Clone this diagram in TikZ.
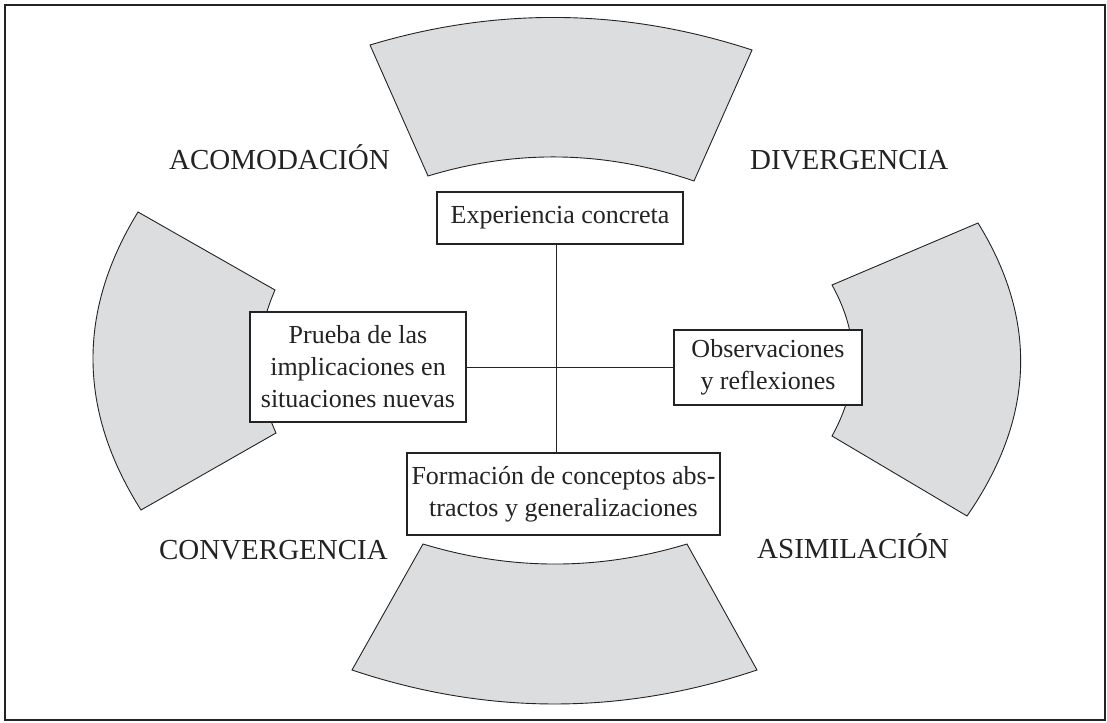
\documentclass[tikz,border=0pt]{standalone}
\usepackage{fontspec}
\setmainfont{Liberation Serif}
\definecolor{sect}{RGB}{220,221,223}
\definecolor{ink}{RGB}{35,35,35}
\tikzset{
 sector/.style={draw=ink, fill=sect, line width=0.9pt, line join=miter},
 stagebox/.style={draw=ink, fill=white, line width=1.1pt, inner sep=0pt, align=center, font=\fontsize{26}{32}\selectfont, text=ink},
 modelabel/.style={font=\fontsize{29}{32}\selectfont, text=ink, inner sep=0pt},
 link/.style={draw=ink, line width=1pt}
}
\begin{document}
\begin{tikzpicture}[x=1pt,y=-1pt]
\useasboundingbox (0,0) rectangle (1107,722);
\draw[draw=ink, line width=2pt] (5,5) rectangle (1105,720);
% sectors
\draw[sector] (370,45) .. controls (497.3,6.7) and (624.7,8.3) .. (752,50) -- (694,181) .. controls (605.3,150.7) and (516.7,149) .. (428,176) -- cycle;
\draw[sector] (352,670) .. controls (487,715.3) and (622,715.3) .. (757,670) -- (687,544) .. controls (599,570.7) and (511,570.7) .. (423,544) -- cycle;
\draw[sector] (138,212) .. controls (77,311.3) and (78,410.7) .. (141,510) -- (276,433) .. controls (254.3,385.3) and (254,337.7) .. (275,290) -- cycle;
\draw[sector] (978,223) .. controls (1038.3,320.7) and (1034.7,418.3) .. (967,516) -- (832,436) .. controls (860,385.7) and (860,335.3) .. (832,285) -- cycle;
% labels
\node[modelabel, anchor=base east] (acom) at (390,170) {ACOMODACIÓN};
\node[modelabel, anchor=base west] (dive) at (750,170) {DIVERGENCIA};
\node[modelabel, anchor=base east] (conv) at (388,559) {CONVERGENCIA};
\node[modelabel, anchor=base west] (asim) at (757,558) {ASIMILACIÓN};
% boxes
\coordinate (c) at (556,367);
\node[stagebox, minimum width=246pt, minimum height=52pt] (exp) at (560,218) {Experiencia concreta};
\node[stagebox, minimum width=216pt, minimum height=110pt] (prueba) at (358,367) {Prueba de las\\implicaciones en\\situaciones nuevas};
\node[stagebox, minimum width=188pt, minimum height=75pt] (obs) at (768,367.5) {Observaciones\\y reflexiones};
\node[stagebox, minimum width=313pt, minimum height=82pt] (form) at (563.5,494) {Formación de conceptos abs-\\tractos y generalizaciones};
% connectors
\draw[link] (c |- exp.south) -- (c |- form.north);
\draw[link] (prueba.east |- c) -- (obs.west |- c);
\end{tikzpicture}
\end{document}
